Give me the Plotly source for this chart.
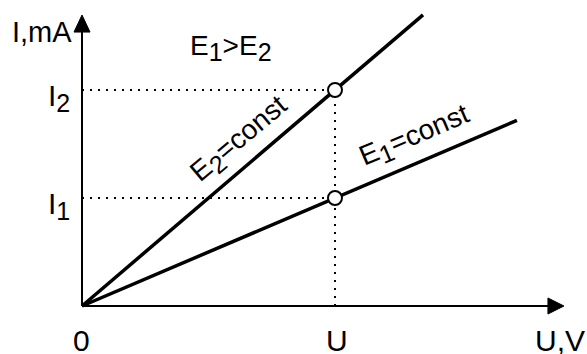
import plotly.graph_objects as go

# --- data (arbitrary units: U = 1, I1 = 1, I2 = 2) ---
U_point = 1.0
I1_value = 1.0
I2_value = 2.0
line_E2_x = [0.0, 1.348]
line_E2_y = [0.0, 2.696]
line_E1_x = [0.0, 1.719]
line_E1_y = [0.0, 1.719]
x_axis_end = 1.905
y_axis_end = 2.694

tick_x_labels = ["0", "U"]
tick_x_values = [0.0, U_point]
tick_y_labels = ["I", "I"]
tick_y_subs = ["2", "1"]
tick_y_values = [I2_value, I1_value]

W, H = 587, 354
# pixel scale of the axes
px_per_x = 253.0
px_per_y = 108.0
ox, oy = 82.0, 306.0
xr = [-ox / px_per_x, (W - ox) / px_per_x]
yr = [(oy - H) / px_per_y, oy / px_per_y]

def dx(p):
    return p / px_per_x

def dy(p):
    return p / px_per_y

def sub(t, size):
    return '<sub><span style="font-size:%dpx">%s</span></sub>' % (size, t)

fig = go.Figure()
FONT = "Liberation Sans, Arial, sans-serif"
black = "#000000"

# axes
fig.add_trace(go.Scatter(x=[0, x_axis_end - dx(14)], y=[0, 0], mode="lines",
                         line=dict(color=black, width=2), hoverinfo="skip"))
fig.add_trace(go.Scatter(x=[0, 0], y=[0, y_axis_end - dy(14)], mode="lines",
                         line=dict(color=black, width=2), hoverinfo="skip"))
# arrow heads
fig.add_trace(go.Scatter(
    x=[x_axis_end, x_axis_end - dx(16), x_axis_end - dx(16), x_axis_end],
    y=[0, dy(8), -dy(8), 0], mode="lines", fill="toself", fillcolor=black,
    line=dict(color=black, width=1), hoverinfo="skip"))
fig.add_trace(go.Scatter(
    x=[0, -dx(8), dx(8), 0],
    y=[y_axis_end, y_axis_end - dy(17), y_axis_end - dy(17), y_axis_end],
    mode="lines", fill="toself", fillcolor=black,
    line=dict(color=black, width=1), hoverinfo="skip"))

# dotted guides
dot = dict(color=black, width=2, dash="2px,6px")
fig.add_trace(go.Scatter(x=[0, U_point], y=[I2_value, I2_value], mode="lines", line=dot, hoverinfo="skip"))
fig.add_trace(go.Scatter(x=[0, U_point], y=[I1_value, I1_value], mode="lines", line=dot, hoverinfo="skip"))
fig.add_trace(go.Scatter(x=[U_point, U_point], y=[0, I2_value], mode="lines", line=dot, hoverinfo="skip"))

# characteristic lines
fig.add_trace(go.Scatter(x=line_E2_x, y=line_E2_y, mode="lines",
                         line=dict(color=black, width=3.5), hoverinfo="skip"))
fig.add_trace(go.Scatter(x=line_E1_x, y=line_E1_y, mode="lines",
                         line=dict(color=black, width=3.5), hoverinfo="skip"))

# operating points
fig.add_trace(go.Scatter(x=[U_point, U_point], y=[I2_value, I1_value], mode="markers",
                         marker=dict(size=14, color="white", line=dict(color=black, width=2)),
                         hoverinfo="skip"))

def f(size):
    return dict(size=size, family=FONT, color=black)

ann = []
for lab, xv in zip(tick_x_labels, tick_x_values):
    ann.append(dict(x=xv + dx(-0.5 if lab == "0" else 1.5), y=-dy(34), text=lab, showarrow=False,
                    xanchor="center", yanchor="middle", font=f(30)))
ann.append(dict(x=x_axis_end - dx(4), y=-dy(34), text="U,V", showarrow=False,
                xanchor="center", yanchor="middle", font=f(30)))
for lab, s, yv in zip(tick_y_labels, tick_y_subs, tick_y_values):
    ann.append(dict(x=-dx(10), y=yv - dy(8), text=lab + sub(s, 25), showarrow=False,
                    xanchor="right", yanchor="middle", font=f(30)))
ann.append(dict(x=-dx(8), y=y_axis_end - dy(17), text="I,mA", showarrow=False,
                xanchor="right", yanchor="middle", font=f(29)))
ann.append(dict(x=dx(106), y=y_axis_end - dy(33),
                text="E" + sub("1", 25) + ">E" + sub("2", 25), showarrow=False,
                xanchor="left", yanchor="middle", font=f(28)))
ann.append(dict(x=dx(240 - ox), y=dy(oy - 140), text="E" + sub("2", 25) + "=const", showarrow=False,
                textangle=-40, xanchor="center", yanchor="middle", font=f(28)))
ann.append(dict(x=dx(415 - ox), y=dy(oy - 137), text="E" + sub("1", 25) + "=const", showarrow=False,
                textangle=-23, xanchor="center", yanchor="middle", font=f(28)))

fig.update_layout(
    width=W, height=H, margin=dict(l=0, r=0, t=0, b=0),
    paper_bgcolor="white", plot_bgcolor="white", showlegend=False,
    xaxis=dict(range=xr, visible=False, fixedrange=True),
    yaxis=dict(range=yr, visible=False, fixedrange=True),
    annotations=ann,
)
fig.write_html("out.html", config={"displayModeBar": False},
               post_script="document.body.style.margin='0';document.body.style.overflow='hidden';")
